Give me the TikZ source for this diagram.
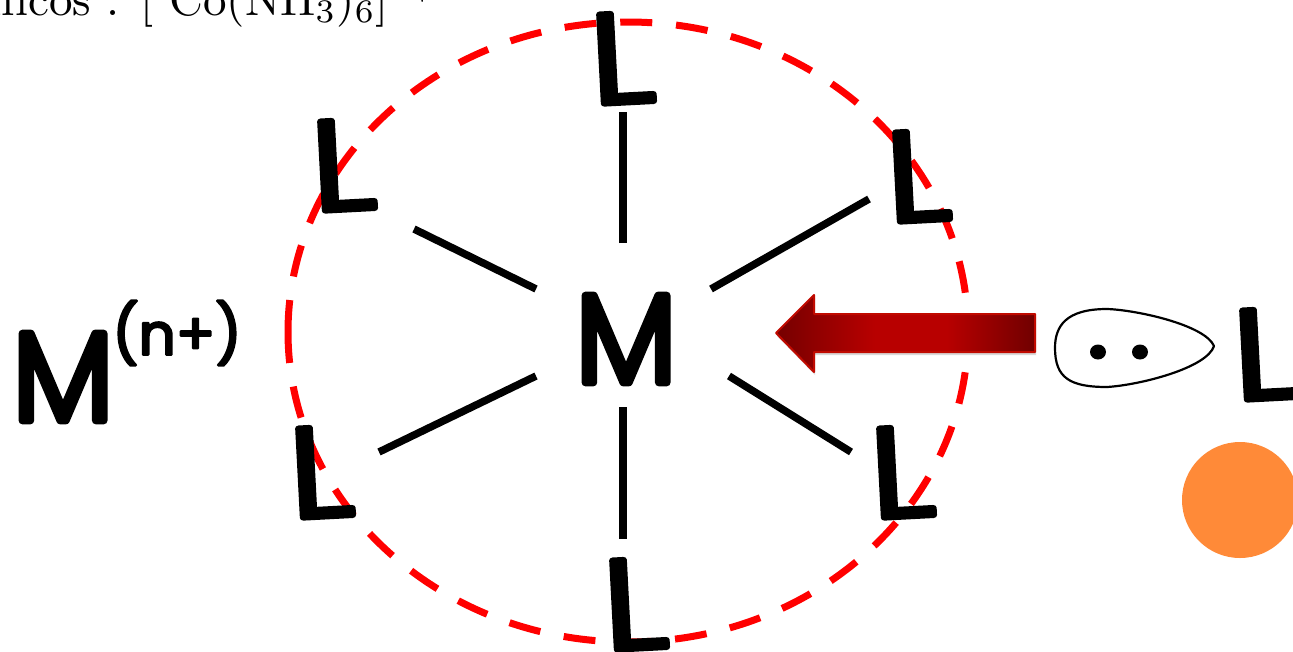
\documentclass[tikz,border=0pt]{standalone}
\usepackage{fontspec}
\usetikzlibrary{shadows}
\newfontfamily\handfont[FakeBold=4.5]{Poppins Light}
\newfontfamily\metalfont[FakeBold=6]{Poppins Light}
\newfontfamily\chargefont[FakeBold=4]{Poppins}
\definecolor{dashred}{HTML}{FF0000}
\definecolor{orangeblob}{HTML}{FF8A38}
\definecolor{arrowedge}{HTML}{C00A00}
\pgfdeclarehorizontalshading{arrowshade}{100bp}{
  rgb(0bp)=(.46,0,0); rgb(25bp)=(.46,0,0); rgb(44bp)=(.72,0,0); rgb(58bp)=(.72,0,0); rgb(75bp)=(.44,0,0); rgb(100bp)=(.44,0,0)}
\tikzset{
  bondline/.style={line width=7.5pt,black},
  ligand/.style={font=\handfont\fontsize{128}{128}\selectfont,inner sep=0pt,line join=round,rotate=3,xscale=1.2,transform shape},
  metal/.style={font=\metalfont\fontsize{126}{126}\selectfont,inner sep=0pt,line join=round,xscale=.95,transform shape},
  charge/.style={font=\chargefont\fontsize{58}{58}\selectfont,inner sep=0pt,line join=round},
  bigarrow/.style={draw=arrowedge,line width=2pt,shading=arrowshade,
    drop shadow={shadow xshift=1pt,shadow yshift=-3pt,opacity=.3}},
}
\begin{document}
\begin{tikzpicture}[x=1pt,y=-1pt,line join=round]
\useasboundingbox (0,0) rectangle (1293,651);
\clip (0,0) rectangle (1293,651);
% title
\node[anchor=base west,inner sep=0pt,scale=4.7,transform shape] (title) at (-12,15.5) {nicos : [ Co(NH$_3$)$_6$]$^{3+}$};
% circle
\draw[dashred,line width=7pt,dash pattern=on 32pt off 23.9pt] (288,332) arc [start angle=180,end angle=540,x radius=340,y radius=310];
% bonds
\coordinate (a1) at (623,243); \coordinate (b1) at (623,112);
\coordinate (a2) at (711,289); \coordinate (b2) at (869,199);
\coordinate (a3) at (729,376); \coordinate (b3) at (851,452);
\coordinate (a4) at (623,407); \coordinate (b4) at (623,539);
\coordinate (a5) at (536,376); \coordinate (b5) at (379,452);
\coordinate (a6) at (536,289); \coordinate (b6) at (414,229);
\foreach \i in {1,...,6} \draw[bondline] (a\i) -- (b\i);
% letters
\node[metal] (M) at (626,339) {M};
\node[ligand] (Lt) at (622,58) {L};
\node[ligand] (Ltl) at (343,165) {L};
\node[ligand] (Ltr) at (918,176) {L};
\node[ligand] (Lbl) at (321,472) {L};
\node[ligand] (Lbr) at (902,472) {L};
\node[ligand] (Lb) at (635,604) {L};
\node[ligand] (Lr) at (1265,354) {L};
\node[metal] (Mbig) at (63,377) {M};
\node[charge] (chg) at (177,333) {(n+)};
% arrow
\path[bigarrow] (776,333) -- (814,295) -- (814,314) -- (1035,314) -- (1035,352) -- (814,352) -- (814,372) -- cycle;
% lone pair
\draw[black,line width=2.2pt] (1055,348) .. controls (1055,326) and (1066,309) .. (1107,309)
  .. controls (1137,310) and (1205,325) .. (1214,346)
  .. controls (1207,368) and (1140,385) .. (1107,387)
  .. controls (1070,387) and (1055,378) .. (1055,348) -- cycle;
\fill[black] (1098,352) ellipse [x radius=8,y radius=7.5];
\fill[black] (1140,352) ellipse [x radius=8,y radius=7.5];
% orange disc
\fill[orangeblob] (1240,500) circle [radius=58];
\end{tikzpicture}
\end{document}
